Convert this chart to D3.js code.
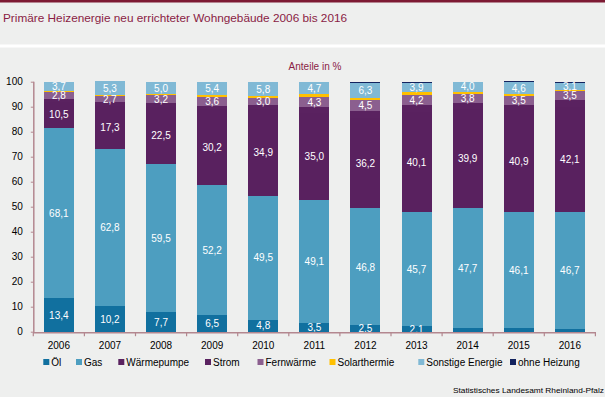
<!DOCTYPE html>
<html><head><meta charset="utf-8">
<script src="https://cdn.jsdelivr.net/npm/d3@7"></script>
<style>
html,body{margin:0;padding:0;background:#eeefee;}
svg{display:block;}
text{font-family:"Liberation Sans",Arial,sans-serif;}
</style></head>
<body>
<script>
const years = ["2006","2007","2008","2009","2010","2011","2012","2013","2014","2015","2016"];
const seriesNames = ["Öl","Gas","Wärmepumpe","Strom","Fernwärme","Solarthermie","Sonstige Energie","ohne Heizung"];
const oel   = [13.4,10.2,7.7,6.5,4.8,3.5,2.5,2.1,1.6,1.6,1.2];
const gas   = [68.1,62.8,59.5,52.2,49.5,49.1,46.8,45.7,47.7,46.1,46.7];
const wp    = [10.5,17.3,22.5,30.2,34.9,35.0,36.2,40.1,39.9,40.9,42.1];
const strom = [1.1,1.4,1.6,1.4,1.3,2.1,2.6,2.6,2.1,2.0,2.7];
const fern  = [2.8,2.7,3.2,3.6,3.0,4.3,4.5,4.2,3.8,3.5,3.5];
const solar = [0.4,0.4,0.5,0.6,0.7,1.1,0.7,1.0,0.9,1.0,0.3];
const sonst = [3.7,5.3,5.0,5.4,5.8,4.7,6.3,3.9,4.0,4.6,3.1];
const ohne  = [0,0,0,0,0,0,0.4,0.4,0,0.4,0.4];
const yTicks = [0,10,20,30,40,50,60,70,80,90,100];
const colors = ["#11709f","#4d9ec0","#59215f","#5a2260","#8b5f8f","#ffc000","#80b9d5","#13235e"];
const labelled = [true,true,true,false,true,false,true,false];

const allSeries = [oel,gas,wp,strom,fern,solar,sonst,ohne];
const W=605,H=397;
const svg=d3.select("body").append("svg").attr("width",W).attr("height",H);
svg.append("rect").attr("width",W).attr("height",H).attr("fill","#eeefee");
svg.append("rect").attr("x",0).attr("y",0).attr("width",W).attr("height",2.5).attr("fill","#7d1a33");
svg.append("rect").attr("x",0).attr("y",44.5).attr("width",W).attr("height",3).attr("fill","#ffffff");
svg.append("text").attr("x",3).attr("y",21.5).attr("font-size",11.8).attr("fill","#8a1c44")
  .text("Primäre Heizenergie neu errichteter Wohngebäude 2006 bis 2016");
svg.append("text").attr("x",315).attr("y",69.5).attr("text-anchor","middle").attr("font-size",10).attr("fill","#8a1c44")
  .text("Anteile in %");

const x=d3.scaleBand().domain(years).range([33.3,595.4]).paddingInner(0.413).paddingOuter(0.2065);
const y=d3.scaleLinear().domain([0,100]).range([331.7,81.7]);

const table = years.map((yr,i)=>{const o={year:yr}; seriesNames.forEach((s,k)=>o[s]=allSeries[k][i]); return o;});
const stacked = d3.stack().keys(seriesNames)(table);

const g=svg.append("g");
stacked.forEach((layer,k)=>{
  g.selectAll(null).data(layer).enter().append("rect")
    .attr("x",d=>x(d.data.year)).attr("width",x.bandwidth())
    .attr("y",d=>y(d[1])).attr("height",d=>Math.max(0,y(d[0])-y(d[1])))
    .attr("fill",colors[k]).attr("shape-rendering","crispEdges");
});
const fmt = v=>v.toFixed(1).replace(".",",");
stacked.forEach((layer,k)=>{
  if(!labelled[k]) return;
  g.selectAll(null).data(layer.filter(d=>d[1]-d[0]>=2)).enter().append("text")
    .attr("x",d=>x(d.data.year)+x.bandwidth()/2)
    .attr("y",d=>y((d[0]+d[1])/2)+3.6)
    .attr("text-anchor","middle").attr("font-size",10).attr("fill","#ffffff")
    .text(d=>fmt(d[1]-d[0]));
});

// axes
const axisColor="#b3878f";
const yAxis=svg.append("g").attr("transform","translate(33.8,0)")
  .call(d3.axisLeft(y).tickValues(yTicks).tickSize(3).tickPadding(8).tickFormat(d3.format("d")));
yAxis.select(".domain").attr("stroke",axisColor).attr("stroke-width",1.5).attr("d","M0,"+y(100)+"V"+(y(0)+0.5));
yAxis.selectAll(".tick line").attr("stroke",axisColor);
yAxis.selectAll(".tick text").attr("font-size",10).attr("fill","#000").attr("font-family","'Liberation Sans',Arial,sans-serif");

const xAxis=svg.append("g").attr("transform","translate(0,"+(y(0)+1)+")")
  .call(d3.axisBottom(x).tickSize(0).tickPadding(9));
xAxis.select(".domain").attr("stroke",axisColor).attr("stroke-width",1.5).attr("d","M33,0H596");
xAxis.selectAll(".tick text").attr("font-size",10).attr("fill","#000").attr("font-family","'Liberation Sans',Arial,sans-serif");
// boundary ticks
const bounds = d3.range(years.length+1).map(i=>33.3+i*x.step());
svg.append("g").selectAll("line").data(bounds).enter().append("line")
  .attr("x1",d=>d).attr("x2",d=>d).attr("y1",y(0)+1).attr("y2",y(0)+4.5)
  .attr("stroke",axisColor).attr("stroke-width",1.2);

// legend
const legX=[43.3,76,118.3,205,257.5,329.5,418.3,510];
const leg=svg.append("g");
seriesNames.forEach((s,k)=>{
  leg.append("rect").attr("x",legX[k]).attr("y",359).attr("width",6).attr("height",6).attr("fill",colors[k]);
  leg.append("text").attr("x",legX[k]+8).attr("y",365.5).attr("font-size",10).attr("fill","#000").text(s);
});

svg.append("text").attr("x",604).attr("y",392.5).attr("text-anchor","end").attr("font-size",8)
  .attr("textLength",151).attr("lengthAdjust","spacingAndGlyphs").attr("fill","#000")
  .text("Statistisches Landesamt Rheinland-Pfalz");
</script>
</body></html>
